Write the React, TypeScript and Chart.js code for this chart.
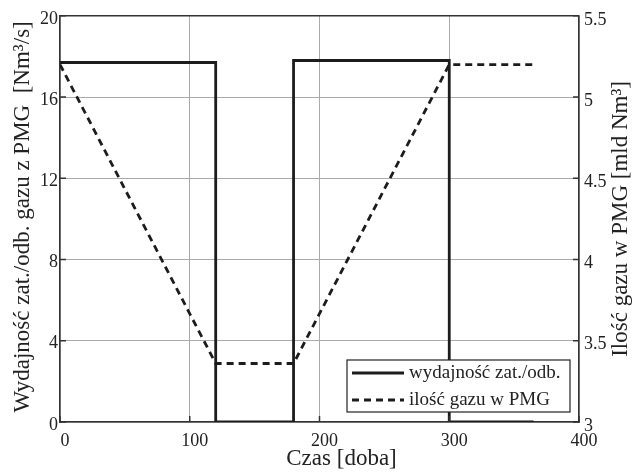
import React, { useEffect, useRef } from "react";
import { Chart, registerables } from "chart.js";

Chart.register(...registerables);

// ---- data ----
const flowDays = [0, 120, 120, 180, 180, 300, 300, 365];
const flowValues = [17.7, 17.7, 0, 0, 17.8, 17.8, 0, 0];
const gasDays = [0, 120, 180, 300, 365];
const gasValues = [5.2, 3.36, 3.36, 5.2, 5.2];
const xTicks = [0, 100, 200, 300, 400];
const leftTicks = [0, 4, 8, 12, 16, 20];
const rightTicks = [3, 3.5, 4, 4.5, 5, 5.5];
const seriesLabels = ["wydajność zat./odb.", "ilość gazu w PMG"];
const xTitle = "Czas [doba]";
const leftTitle = "Wydajność zat./odb. gazu z PMG  [Nm³/s]";
const rightTitle = "Ilość gazu w PMG [mld Nm³]";

const FONT = "'Liberation Serif', 'Times New Roman', serif";
const TEXT = "#222";
const AXIS = "#333";
const GRID = "#aaaaaa";
const LINE = "#1c1c1c";
const DASH = [7, 5];

const decorPlugin = {
  id: "decor",
  afterDraw(chart: any) {
    const ctx = chart.ctx as CanvasRenderingContext2D;
    const a = chart.chartArea;
    ctx.save();
    // top border
    ctx.strokeStyle = AXIS;
    ctx.lineWidth = 1.5;
    ctx.beginPath();
    ctx.moveTo(a.left, a.top);
    ctx.lineTo(a.right, a.top);
    ctx.stroke();
    // inward ticks
    ctx.beginPath();
    const y2 = chart.scales.y2;
    y2.ticks.forEach((t: any) => {
      const p = y2.getPixelForValue(t.value);
      ctx.moveTo(a.right - 6, p);
      ctx.lineTo(a.right, p);
    });
    const y = chart.scales.y;
    y.ticks.forEach((t: any) => {
      const p = y.getPixelForValue(t.value);
      ctx.moveTo(a.left, p);
      ctx.lineTo(a.left + 6, p);
    });
    const x = chart.scales.x;
    x.ticks.forEach((t: any) => {
      const p = x.getPixelForValue(t.value);
      ctx.moveTo(p, a.bottom);
      ctx.lineTo(p, a.bottom - 6);
    });
    ctx.stroke();

    // titles
    ctx.fillStyle = TEXT;
    ctx.font = `23px ${FONT}`;
    ctx.textAlign = "center";
    ctx.textBaseline = "middle";
    ctx.fillText(xTitle, (a.left + a.right) / 2 + 22, a.bottom + 37);
    ctx.save();
    ctx.translate(23, (a.top + a.bottom) / 2 - 2);
    ctx.rotate(-Math.PI / 2);
    ctx.fillText(leftTitle, 0, 0);
    ctx.restore();
    ctx.save();
    ctx.translate(a.right + 42, (a.top + a.bottom) / 2);
    ctx.rotate(-Math.PI / 2);
    ctx.fillText(rightTitle, 0, 0);
    ctx.restore();

    // legend
    const bw = 223;
    const bh = 52;
    const bx = a.right - 9 - bw;
    const by = a.bottom - 10 - bh;
    ctx.fillStyle = "#ffffff";
    ctx.fillRect(bx, by, bw, bh);
    ctx.strokeStyle = "#222";
    ctx.lineWidth = 1.2;
    ctx.strokeRect(bx, by, bw, bh);
    const rows = [by + 13, by + 40];
    chart.data.datasets.forEach((ds: any, i: number) => {
      const ry = rows[i];
      ctx.strokeStyle = ds.borderColor;
      ctx.lineWidth = ds.borderWidth;
      ctx.setLineDash(ds.borderDash || []);
      ctx.beginPath();
      ctx.moveTo(bx + 5, ry);
      ctx.lineTo(bx + 57, ry);
      ctx.stroke();
      ctx.setLineDash([]);
      ctx.fillStyle = TEXT;
      ctx.font = `19px ${FONT}`;
      ctx.textAlign = "left";
      ctx.textBaseline = "middle";
      ctx.fillText(ds.label, bx + 62, ry);
    });
    ctx.restore();
  },
};

export default function App() {
  const ref = useRef<HTMLCanvasElement | null>(null);
  useEffect(() => {
    document.body.style.margin = "0";
    const canvas = ref.current!;
    const chart = new Chart(canvas, {
      type: "line",
      data: {
        datasets: [
          {
            label: seriesLabels[0],
            data: flowDays.map((d, i) => ({ x: d, y: flowValues[i] })),
            yAxisID: "y",
            borderColor: LINE,
            borderWidth: 2.8,
            pointRadius: 0,
            fill: false,
            tension: 0,
          },
          {
            label: seriesLabels[1],
            data: gasDays.map((d, i) => ({ x: d, y: gasValues[i] })),
            yAxisID: "y2",
            borderColor: LINE,
            borderWidth: 2.8,
            borderDash: DASH,
            pointRadius: 0,
            fill: false,
            tension: 0,
          },
        ],
      },
      options: {
        animation: false,
        responsive: false,
        maintainAspectRatio: false,
        devicePixelRatio: 1,
        layout: { padding: { top: 15, left: 0, right: 0, bottom: 0 } },
        plugins: {
          legend: { display: false },
          tooltip: { enabled: false },
        },
        scales: {
          x: {
            type: "linear",
            min: 0,
            max: 400,
            afterBuildTicks: (s: any) => {
              s.ticks = xTicks.map((v) => ({ value: v }));
            },
            afterFit: (s: any) => {
              s.height = 50;
            },
            grid: { color: GRID, lineWidth: 1, drawTicks: false },
            border: { color: AXIS, width: 1.5 },
            ticks: {
              color: TEXT,
              font: { family: FONT, size: 18 },
              padding: 8,
              labelOffset: 5,
              maxRotation: 0,
              callback: (v: any) => String(v),
            },
          },
          y: {
            type: "linear",
            position: "left",
            min: 0,
            max: 20,
            afterBuildTicks: (s: any) => {
              s.ticks = leftTicks.map((v) => ({ value: v }));
            },
            afterFit: (s: any) => {
              s.width = 60;
            },
            grid: { color: GRID, lineWidth: 1, drawTicks: false },
            border: { color: AXIS, width: 1.5 },
            ticks: {
              color: TEXT,
              font: { family: FONT, size: 18 },
              padding: 2,
              labelOffset: 3,
              callback: (v: any) => String(v),
            },
          },
          y2: {
            type: "linear",
            position: "right",
            min: 3,
            max: 5.5,
            afterBuildTicks: (s: any) => {
              s.ticks = rightTicks.map((v) => ({ value: v }));
            },
            afterFit: (s: any) => {
              s.width = 55;
            },
            grid: { display: false, drawTicks: false },
            border: { color: AXIS, width: 1.5 },
            ticks: {
              color: TEXT,
              font: { family: FONT, size: 18 },
              padding: 5,
              labelOffset: 4,
              callback: (v: any) => String(v),
            },
          },
        },
      },
      plugins: [decorPlugin],
    });
    return () => chart.destroy();
  }, []);
  return (
    <div style={{ position: "absolute", left: 0, top: 0, width: 634, height: 472 }}>
      <canvas ref={ref} width={634} height={472} style={{ display: "block" }} />
    </div>
  );
}
